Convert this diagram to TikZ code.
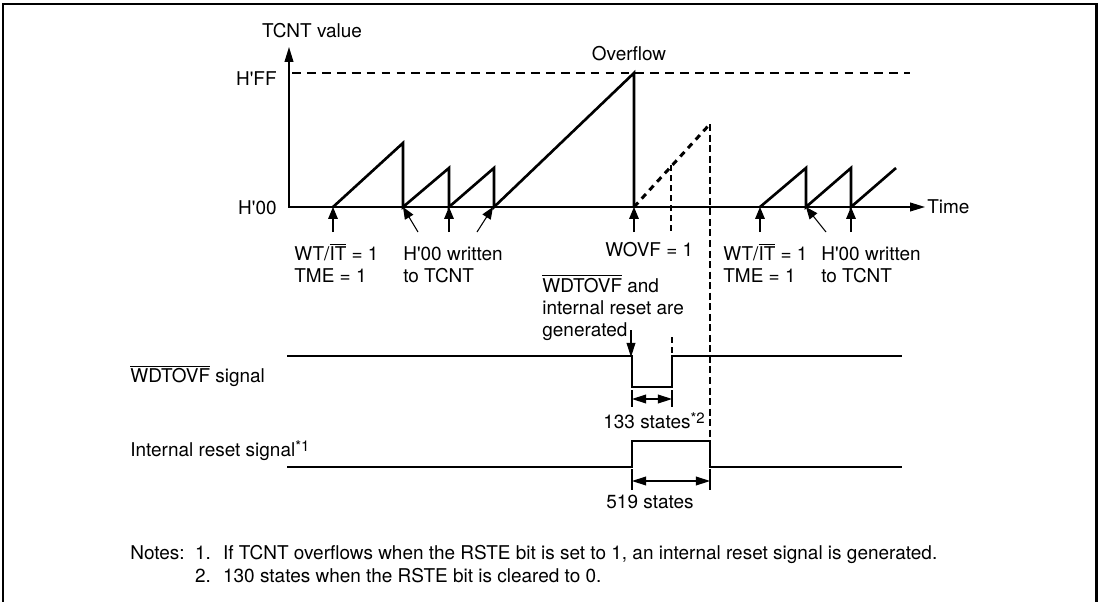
\documentclass[tikz,border=0pt]{standalone}
\usepackage{fontspec}
\setmainfont{TeX Gyre Heros}
\usetikzlibrary{arrows.meta}
\newcommand{\ovl}[1]{$\overline{\mbox{#1}}$}
\newcommand{\hq}{H\textquotesingle}
\newcommand{\starnote}[1]{\raisebox{3pt}{\fontsize{8.5}{9}\selectfont *#1}}

\begin{document}
\begin{tikzpicture}[x=0.02cm, y=-0.02cm,
    every node/.style={font=\fontsize{10.8}{12.6}\selectfont, inner sep=0pt},
    lbl/.style={anchor=base west, align=left},
    wave/.style={line width=1.5pt},
    pointer/.style={line width=0.6pt, -{Triangle[length=6.8pt, width=5.5pt]}},
    dimarrow/.style={line width=0.6pt, {Triangle[length=8pt, width=5pt]}-{Triangle[length=8pt, width=5pt]}},
    guide/.style={line width=0.6pt, dash pattern=on 3.4pt off 2.3pt}]
    \useasboundingbox (0,0) rectangle (1100,602);
    % frame, open at the bottom
    \draw[line width=1.7pt] (3,602) -- (3,4) -- (1096,4) -- (1096,602);

    % axes
    \draw[line width=0.8pt, {Triangle[length=8.5pt, width=5pt]}-{Triangle[length=8.5pt, width=5pt]}]
      (289,47) -- (289,207) -- (925,207);
    \node[anchor=base] (yname) at (312,37.5) {TCNT value};
    \node[anchor=base west] (tname) at (927,213.5) {Time};
    \node[anchor=base east] (hff) at (277,85) {\hq FF};
    \node[anchor=base east] (h00) at (277,214.5) {\hq 00};
    \draw[line width=0.6pt, dash pattern=on 5pt off 3.5pt] (292,73) -- (910,73);
    \node[anchor=base] (ovf) at (629,60.5) {Overflow};

    % TCNT count
    \draw[wave] (333,207) -- (403,143) -- (403,207) -- (449,168) -- (449,207)
      -- (494,168) -- (494,207) -- (634,73) -- (634,207);
    \draw[line width=1.7pt, dash pattern=on 3.5pt off 3pt] (634,207) -- (710,124);
    \draw[line width=0.9pt, dash pattern=on 4pt off 2pt] (710,124) -- (710,441);
    \draw[guide] (671,165) -- (671,232);
    \draw[wave] (760,207) -- (806,168) -- (806,207) -- (851,168) -- (851,207) -- (896,168);

    % events below the time axis
    \foreach \x in {333,449,634,760,851}
      \draw[pointer] (\x,232) -- (\x,207);
    \draw[pointer] (418,232) -- (403,207);
    \draw[pointer] (477,232) -- (493,207);
    \draw[pointer] (826,232) -- (806,207);
    \node[lbl] (it1) at (294,282.5) {WT/\ovl{IT} = 1\\TME = 1};
    \node[lbl] (wr1) at (403,282.5) {\hq 00 written\\to TCNT};
    \node[lbl] (wovf) at (605,256.5) {WOVF = 1};
    \node[lbl] (it2) at (723,282.5) {WT/\ovl{IT} = 1\\TME = 1};
    \node[lbl] (wr2) at (821,282.5) {\hq 00 written\\to TCNT};
    \node[lbl] (gen) at (542,336.5) {\ovl{WDTOVF} and\\internal reset are\\generated};
    \draw[pointer, -{Triangle[length=8pt, width=5pt]}] (631,330) -- (631,357);

    % output signals
    \node[lbl] (wdt) at (130,382.5) {\ovl{WDTOVF} signal};
    \draw[wave] (287,356) -- (632,356) -- (632,387) -- (672,387) -- (672,356) -- (902,356);
    \draw[guide] (672,337) -- (672,356);
    \draw[line width=0.6pt] (632,390) -- (632,407) (672,390) -- (672,407);
    \draw[dimarrow] (632,399) -- (672,399);
    \node[lbl] (s133) at (603,428.5) {133 states\starnote{2}};

    \node[lbl] (rst) at (130,456.5) {Internal reset signal\starnote{1}};
    \draw[wave] (287,467) -- (632,467) -- (632,441) -- (710,441) -- (710,467) -- (902,467);
    \draw[line width=0.6pt] (632,469) -- (632,490) (710,469) -- (710,490);
    \draw[dimarrow] (632,481) -- (710,481);
    \node[anchor=base] (s519) at (650,508.5) {519 states};

    % notes
    \node[lbl] (note1) at (130,559.5) {\makebox[36.9pt][l]{Notes:}\makebox[15.9pt][l]{1.}If TCNT overflows when the RSTE bit is set to 1, an internal reset signal is generated.};
    \node[lbl] (note2) at (130,582.5) {\hspace*{36.9pt}\makebox[15.9pt][l]{2.}130 states when the RSTE bit is cleared to 0.};
  \end{tikzpicture}
\end{document}
